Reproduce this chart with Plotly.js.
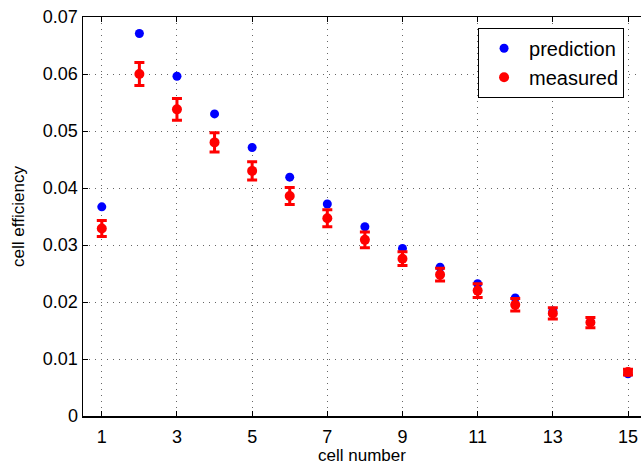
<!DOCTYPE html>
<html>
<head>
<meta charset="utf-8">
<script src="https://cdn.plot.ly/plotly-3.0.1.min.js"></script>
<style>html,body{margin:0;padding:0;background:#fff;}#chart{width:641px;height:465px;}</style>
</head>
<body>
<div id="chart"></div>
<script>
const cellNumbers = [1,2,3,4,5,6,7,8,9,10,11,12,13,14,15];
const prediction = [0.0367,0.0671,0.0596,0.0530,0.0471,0.0419,0.0372,0.0332,0.0294,0.0261,0.0232,0.0207,0.0184,0.0165,0.0074];
const measured = [0.0329,0.0600,0.0538,0.0480,0.0430,0.0386,0.0347,0.0309,0.0276,0.0248,0.0220,0.0195,0.0180,0.0164,0.0077];
const measuredErr = [0.0014,0.0020,0.0019,0.0017,0.0016,0.0015,0.0015,0.0014,0.0012,0.0011,0.0012,0.0011,0.0010,0.0009,0.0005];
const xTicks = [1,3,5,7,9,11,13,15];
const yTicks = [0,0.01,0.02,0.03,0.04,0.05,0.06,0.07];
const yTickLabels = ['0','0.01','0.02','0.03','0.04','0.05','0.06','0.07'];

const traces = [
  {x: cellNumbers, y: prediction, type: 'scatter', mode: 'markers', name: 'prediction',
   marker: {color: '#0000ff', size: 9}},
  {x: cellNumbers, y: measured, type: 'scatter', mode: 'markers', name: 'measured',
   marker: {color: '#ff0000', size: 10},
   error_y: {type: 'data', array: measuredErr, visible: true, color: '#ff0000', thickness: 3, width: 5}}
];

const layout = {
  width: 641, height: 465,
  margin: {l: 83, r: 0, t: 17, b: 49},
  paper_bgcolor: '#fff', plot_bgcolor: '#fff',
  font: {family: 'Liberation Sans, Arial, sans-serif', color: '#000', size: 18},
  showlegend: true,
  legend: {x: 0.708, y: 0.973, xanchor: 'left', yanchor: 'top',
    bgcolor: '#fff', bordercolor: '#000', borderwidth: 1,
    font: {size: 20, color: '#000'}, itemwidth: 40, tracegroupgap: 0},
  xaxis: {range: [0.5, 15.346], tickvals: xTicks, ticktext: xTicks.map(String),
    showgrid: true, gridcolor: '#666', griddash: '1px,5px', gridwidth: 1,
    showline: true, linecolor: '#000', linewidth: 1.5, mirror: 'ticks',
    ticks: 'inside', ticklen: 5, tickcolor: '#000', zeroline: false,
    tickfont: {size: 18}, ticklabelstandoff: 4,
    title: {text: 'cell number', font: {size: 17}, standoff: 2}},
  yaxis: {range: [0, 0.07], tickvals: yTicks, ticktext: yTickLabels,
    showgrid: true, gridcolor: '#666', griddash: '1px,5px', gridwidth: 1,
    showline: true, linecolor: '#000', linewidth: 1.5, mirror: false,
    ticks: 'inside', ticklen: 5, tickcolor: '#000', zeroline: false,
    tickfont: {size: 18},
    title: {text: 'cell efficiency', font: {size: 17}, standoff: 14}}
};

Plotly.newPlot('chart', traces, layout, {displayModeBar: false, staticPlot: true});
</script>
</body>
</html>
